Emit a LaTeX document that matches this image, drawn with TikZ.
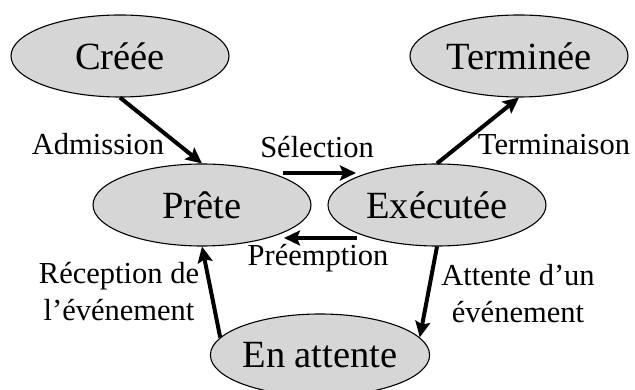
\documentclass[tikz,border=0pt]{standalone}
\usepackage{fontspec}
\setmainfont{Liberation Serif}
\usetikzlibrary{shapes.geometric,arrows.meta}
\definecolor{nodefill}{RGB}{214,214,214}
\begin{document}
\begin{tikzpicture}[x=1pt,y=-1pt,
  state/.style={ellipse,draw,line width=1.1pt,fill=nodefill,minimum width=218pt,minimum height=82pt,inner sep=0pt,font=\fontsize{38.5}{40}\selectfont},
  trans/.style={line width=4pt,-{Stealth[length=16pt,width=15pt,inset=3pt]}},
  lbl/.style={inner sep=0pt,font=\fontsize{30.5}{37.5}\selectfont,anchor=base,align=center}]
\useasboundingbox (0,0) rectangle (635,390);
\node[state] (creee) at (120,56) {Créée};
\node[state] (terminee) at (519,56) {Terminée};
\node[state] (prete) at (202,205) {Prête};
\node[state] (executee) at (437,205) {Exécutée};
\node[state] (attente) at (320,355) {En attente};
\coordinate (s1) at (283,173);
\coordinate (s2) at (356,173);
\coordinate (p1) at (357,238);
\coordinate (p2) at (284,238);
\draw[trans] (creee.south) -- (prete.north);
\draw[trans] (executee.north) -- (terminee.south);
\draw[trans] (s1) -- (s2);
\draw[trans] (p1) -- (p2);
\draw[trans] (attente.170) -- (prete.south);
\draw[trans] (executee.south) -- (attente.10);
\node[lbl] (ladm) at (98,155) {Admission};
\node[lbl] (lterm) at (554,155) {Terminaison};
\node[lbl] (lsel) at (317,158) {Sélection};
\node[lbl] (lpre) at (318,266) {Préemption};
\node[lbl,anchor=north] (lrec) at (119,262) {Réception de\\l’événement};
\node[lbl,anchor=north] (latt) at (518,264) {Attente d’un\\événement};
\end{tikzpicture}
\end{document}
